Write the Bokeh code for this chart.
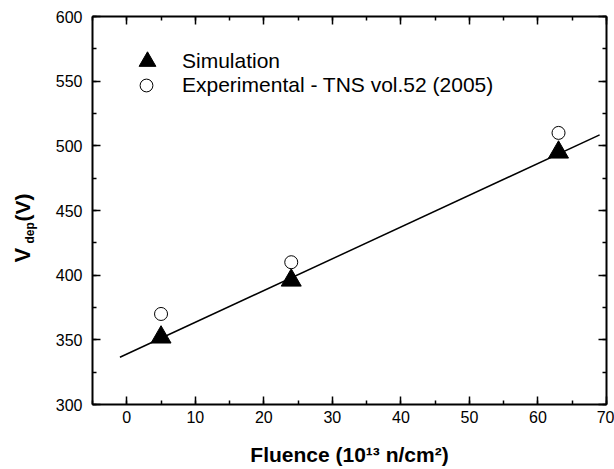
import math
from bokeh.plotting import figure
from bokeh.layouts import row
from bokeh.models import (Range1d, LinearAxis, SingleIntervalTicker, Label,
                          Legend, LegendItem, CustomJSTickFormatter)
from bokeh.embed import file_html
from bokeh.resources import INLINE

# ---- data ----
fluence = [5, 24, 63]
vdep_sim = [352, 396, 495]
vdep_exp = [370, 410, 510]
fit_fluence = [-1, 69]
fit_vdep = [336.5, 508.5]

sim_label = "Simulation"
exp_label = "Experimental - TNS vol.52 (2005)"
x_title = "Fluence (10\u00b9\u00b3 n/cm\u00b2)"

# ---- layout ----
X0, X1 = -5, 70
Y0, Y1 = 300, 600
W, H = 614, 469
TW = 44                      # strip holding the y title
L, R, T, B = 92, 8, 16, 65   # frame position in the page
FW = W - L - R
FH = H - T - B
FONT = "Liberation Sans"

p = figure(frame_width=FW, frame_height=FH,
           x_range=Range1d(X0, X1), y_range=Range1d(Y0, Y1),
           output_backend="svg", toolbar_location=None,
           min_border_left=L - TW, min_border_right=R,
           min_border_top=T, min_border_bottom=B,
           background_fill_color="white", border_fill_color="white")
p.grid.visible = False
p.outline_line_color = None


def style_axis(ax, interval, labels=True):
    ax.ticker = SingleIntervalTicker(interval=interval, num_minor_ticks=2)
    ax.axis_line_width = 2
    ax.axis_line_color = "black"
    ax.major_tick_in = 8
    ax.major_tick_out = 0
    ax.minor_tick_in = 4
    ax.minor_tick_out = 0
    ax.major_tick_line_width = 1.5
    ax.minor_tick_line_width = 1.5
    ax.major_tick_line_color = "black"
    ax.minor_tick_line_color = "black"
    ax.major_label_text_font = FONT
    ax.major_label_text_color = "black"
    if labels:
        ax.major_label_text_font_size = "16px"
    else:
        ax.formatter = CustomJSTickFormatter(code="return ''")
        ax.major_label_text_font_size = "1px"
        ax.major_label_standoff = 0


style_axis(p.xaxis[0], 10)
p.xaxis[0].major_label_standoff = 6
p.xaxis[0].axis_label = x_title
p.xaxis[0].axis_label_text_font = FONT
p.xaxis[0].axis_label_text_font_style = "bold"
p.xaxis[0].axis_label_text_font_size = "21px"
p.xaxis[0].axis_label_text_color = "black"
p.xaxis[0].axis_label_standoff = 17

style_axis(p.yaxis[0], 50)
p.yaxis[0].major_label_standoff = 10

top_ax = LinearAxis()
style_axis(top_ax, 10, labels=False)
p.add_layout(top_ax, "above")
right_ax = LinearAxis()
style_axis(right_ax, 50, labels=False)
p.add_layout(right_ax, "right")

# ---- glyphs ----
p.line(fit_fluence, fit_vdep, line_color="black", line_width=1.5)
r_exp = p.scatter(fluence, vdep_exp, marker="circle", size=13,
                  fill_color="white", line_color="black", line_width=1)
r_sim = p.scatter(fluence, vdep_sim, marker="triangle", size=20,
                  fill_color="black", line_color="black")

# ---- legends ----
leg1 = Legend(items=[LegendItem(label=sim_label, renderers=[r_sim])],
              location=(34, 322), glyph_width=42, glyph_height=42,
              label_standoff=14, padding=0, margin=0, spacing=0,
              border_line_alpha=0, background_fill_alpha=0,
              label_text_font=FONT, label_text_font_size="21px",
              label_text_color="black")
leg2 = Legend(items=[LegendItem(label=exp_label, renderers=[r_exp])],
              location=(38, 303), glyph_width=32, glyph_height=32,
              label_standoff=20, padding=0, margin=0, spacing=0,
              border_line_alpha=0, background_fill_alpha=0,
              label_text_font=FONT, label_text_font_size="21px",
              label_text_color="black")
p.add_layout(leg1)
p.add_layout(leg2)

# ---- y title strip: V with subscript "dep" ----
t = figure(width=TW, height=H, x_range=Range1d(0, TW),
           y_range=Range1d(T + FH, T),
           output_backend="svg", toolbar_location=None,
           x_axis_location=None, y_axis_location=None,
           min_border_left=0, min_border_right=0,
           min_border_top=T, min_border_bottom=B,
           background_fill_color="white", border_fill_color="white")
t.grid.visible = False
t.outline_line_color = None


def ylab(text, cx, cy, size):
    t.add_layout(Label(x=cx, y=cy, text=text, angle=math.pi / 2,
                       text_align="left", text_baseline="alphabetic",
                       text_font=FONT, text_font_style="bold",
                       text_font_size=size, text_color="black"))


ylab("V", 22, 262, "22px")
ylab("dep", 29, 243, "12px")
ylab("(V)", 22, 221, "21px")

layout = row(t, p, spacing=0)
open("out.html", "w").write(file_html(layout, INLINE))
